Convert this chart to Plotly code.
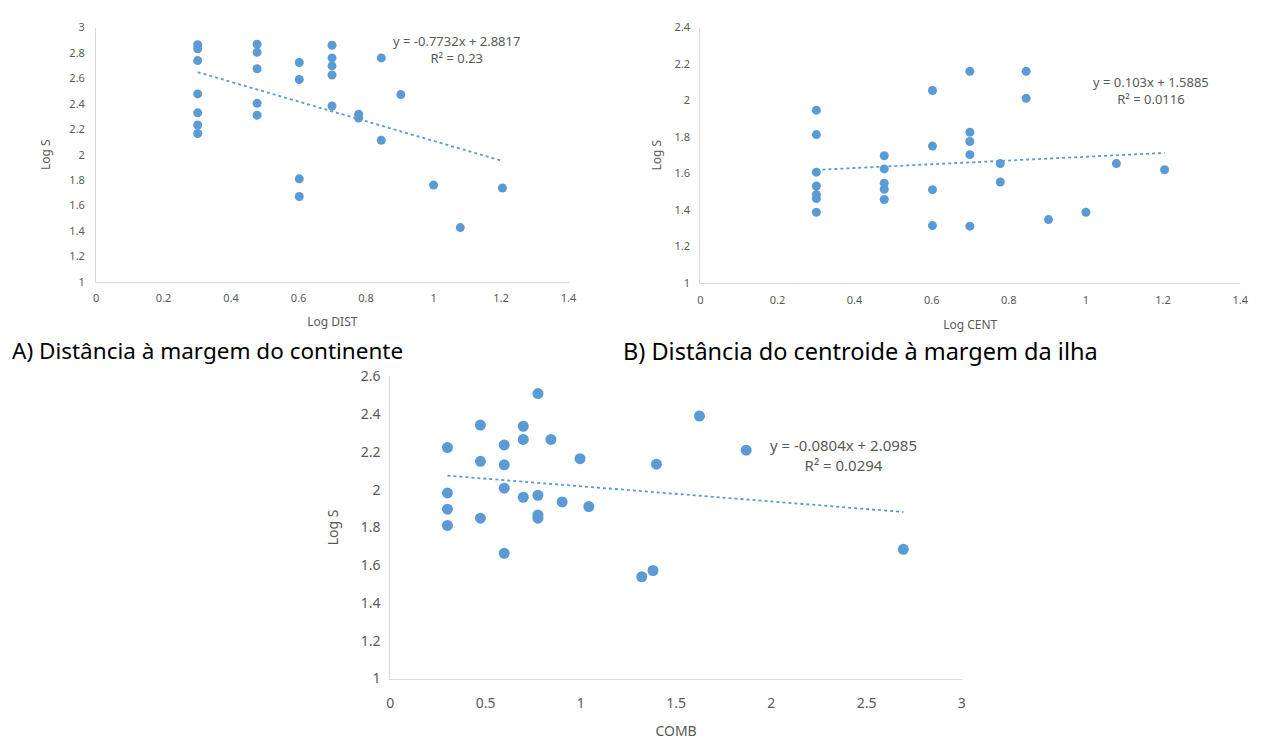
import plotly.graph_objects as go

# Panel A: Log DIST vs Log S
dist_x = [0.301, 0.301, 0.301, 0.301, 0.301, 0.301, 0.301,
          0.477, 0.477, 0.477, 0.477, 0.477,
          0.602, 0.602, 0.602, 0.602,
          0.699, 0.699, 0.699, 0.699, 0.699,
          0.778, 0.778, 0.845, 0.845, 0.903, 1.0, 1.079, 1.204]
dist_y = [2.865, 2.833, 2.740, 2.478, 2.329, 2.234, 2.167,
          2.869, 2.805, 2.676, 2.404, 2.311,
          2.725, 2.591, 1.810, 1.671,
          2.861, 2.761, 2.699, 2.627, 2.383,
          2.319, 2.288, 2.761, 2.113, 2.473, 1.761, 1.427, 1.738]
dist_fit = (-0.7732, 2.8817, "0.23")

# Panel B: Log CENT vs Log S
cent_x = [0.301, 0.301, 0.301, 0.301, 0.301, 0.301, 0.301,
          0.477, 0.477, 0.477, 0.477, 0.477,
          0.602, 0.602, 0.602, 0.602,
          0.699, 0.699, 0.699, 0.699, 0.699,
          0.778, 0.778, 0.845, 0.845, 0.903, 1.0, 1.079, 1.204]
cent_y = [1.947, 1.813, 1.607, 1.531, 1.484, 1.462, 1.387,
          1.697, 1.625, 1.546, 1.513, 1.457,
          2.055, 1.750, 1.511, 1.314,
          2.160, 1.826, 1.775, 1.703, 1.311,
          1.654, 1.553, 2.160, 2.012, 1.347, 1.387, 1.654, 1.620]
cent_fit = (0.103, 1.5885, "0.0116")

# Panel C: COMB vs Log S
comb_x = [0.300, 0.300, 0.300, 0.300,
          0.473, 0.473, 0.473,
          0.598, 0.598, 0.598, 0.598,
          0.698, 0.698, 0.698,
          0.775, 0.775, 0.775, 0.775,
          0.843, 0.902, 0.996, 1.042, 1.320, 1.379, 1.397, 1.623, 1.868, 2.693]
comb_y = [2.223, 1.983, 1.897, 1.811,
          2.342, 2.150, 1.849,
          2.237, 2.132, 2.008, 1.663,
          2.336, 2.266, 1.960,
          2.509, 1.970, 1.866, 1.849,
          2.266, 1.935, 2.164, 1.911, 1.539, 1.572, 2.135, 2.390, 2.209, 1.684]
comb_fit = (-0.0804, 2.0985, "0.0294")

BLUE = "#5B9BD5"
GREY = "#595959"
AXIS = "#D9D9D9"
FONT = "Noto Sans"

W, H = 1264, 745


def dom_x(a, b):
    return [a / W, b / W]


def dom_y(top, bottom):
    return [1 - bottom / H, 1 - top / H]


fig = go.Figure()


def add_panel(idx, xs, ys, fit, msize):
    slope, icpt, r2 = fit
    xa = "x" if idx == 1 else f"x{idx}"
    ya = "y" if idx == 1 else f"y{idx}"
    fig.add_trace(go.Scatter(x=xs, y=ys, mode="markers", xaxis=xa, yaxis=ya,
                             marker=dict(color=BLUE, size=msize), showlegend=False))
    # linear trendline over the span of the data
    x0, x1 = min(xs), max(xs)
    fig.add_trace(go.Scatter(x=[x0, x1], y=[slope * x0 + icpt, slope * x1 + icpt],
                             mode="lines", xaxis=xa, yaxis=ya,
                             line=dict(color=BLUE, width=1.8, dash="dot"),
                             showlegend=False))


add_panel(1, dist_x, dist_y, dist_fit, 9)
add_panel(2, cent_x, cent_y, cent_fit, 9)
add_panel(3, comb_x, comb_y, comb_fit, 11)


def axis_style(size, lab_off, **kw):
    d = dict(showgrid=False, zeroline=False, showline=True, linecolor=AXIS,
             linewidth=1, ticks="", ticklabelstandoff=lab_off,
             tickfont=dict(family=FONT, size=size, color=GREY), fixedrange=True)
    d.update(kw)
    return d


def title(text, size, standoff):
    return dict(text=text, font=dict(family=FONT, size=size, color=GREY), standoff=standoff)


fig.update_layout(
    width=W, height=H, autosize=False,
    margin=dict(l=0, r=0, t=0, b=0),
    paper_bgcolor="white", plot_bgcolor="white",
    xaxis=axis_style(11, 6, domain=dom_x(93, 570), range=[0, 1.4], dtick=0.2,
                     anchor="y", title=title("Log DIST", 12, 13)),
    yaxis=axis_style(11, 8, domain=dom_y(18, 279), range=[1, 3], dtick=0.2,
                     anchor="x", title=title("Log S", 12, 16)),
    xaxis2=axis_style(11, 7, domain=dom_x(703, 1248), range=[0, 1.4], dtick=0.2,
                      anchor="y2", title=title("Log CENT", 12, 14)),
    yaxis2=axis_style(11, 7, domain=dom_y(18, 280), range=[1, 2.4], dtick=0.2,
                      anchor="x2", title=title("Log S", 12, 10)),
    xaxis3=axis_style(14, 12, domain=dom_x(390, 967), range=[0, 3], dtick=0.5,
                      anchor="y3", title=title("COMB", 14, 14)),
    yaxis3=axis_style(14, 6, domain=dom_y(376, 686), range=[1, 2.6], dtick=0.2,
                      anchor="x3", title=title("Log S", 14, 18)),
)


def eq_text(fit):
    slope, icpt, r2 = fit
    sign = "-" if slope < 0 else ""
    return f"y = {sign}{abs(slope):g}x + {icpt:g}<br>R² = {r2}"


# (fit, x-axis, y-axis, x, y, font size) — equation boxes centred on (x, y)
annots = [
    (dist_fit, "x", "y", 1.067, 2.83, 13),
    (cent_fit, "x2", "y2", 1.169, 2.055, 13),
    (comb_fit, "x3", "y3", 2.38, 2.185, 15),
]
for fit, xr, yr, ax_, ay_, fs in annots:
    fig.add_annotation(x=ax_, y=ay_, xref=xr, yref=yr, text=eq_text(fit),
                       showarrow=False, align="center", xanchor="center",
                       yanchor="middle",
                       font=dict(family=FONT, size=fs, color=GREY))

fig.add_annotation(x=6 / W, y=1 - 349 / H, xref="paper", yref="paper",
                   text="A) Distância à margem do continente", showarrow=False,
                   xanchor="left", yanchor="middle",
                   font=dict(family=FONT, size=22.5, color="black"))
fig.add_annotation(x=623 / W, y=1 - 350 / H, xref="paper", yref="paper",
                   text="B) Distância do centroide à margem da ilha", showarrow=False,
                   xanchor="left", yanchor="middle",
                   font=dict(family=FONT, size=23.5, color="black"))

fig.write_html("out.html")
